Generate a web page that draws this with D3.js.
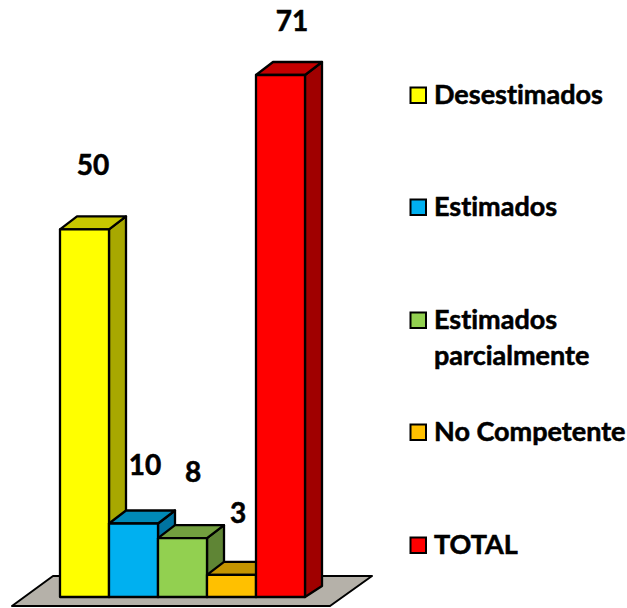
<!DOCTYPE html>
<html><head><meta charset="utf-8">
<script src="https://cdnjs.cloudflare.com/ajax/libs/d3/7.8.5/d3.min.js"></script>
<style>html,body{margin:0;padding:0;background:#fff}svg{display:block}text{font-family:Lato,"Open Sans",sans-serif;font-weight:700;fill:#000;stroke:#000;stroke-width:.55px;font-variant-ligatures:none}</style>
</head><body><svg id="c" width="627" height="608"></svg>
<script>
const categories = ["Desestimados","Estimados","Estimados parcialmente","No Competente","TOTAL"];
const values = [50,10,8,3,71];
const frontColors = ["#ffff00","#00b0f0","#92d050","#ffc000","#ff0000"];
const topColors = ["#c8c800","#008ab8","#729f3f","#c49400","#c40000"];
const sideColors = ["#a8a800","#0073a0","#5f8535","#a87f00","#a00000"];
const labelOffsets = [[33,-54],[36,-48],[35,-56],[31,-52],[36,-44]];
const legendLines = [["Desestimados"],["Estimados"],["Estimados","parcialmente"],["No Competente"],["TOTAL"]];
const legendY = [95,207,320,432,545];

const svg = d3.select("#c");
const x = d3.scaleBand().domain(categories).range([60,305]);
const y = d3.scaleLinear().domain([0,71]).range([597,75]);
const dx = 17, dy = 13, dyBase = 11;
const poly = p => p.join(" ");

svg.append("polygon")
  .attr("points", poly([[12,606],[53,576],[372,576],[330,606]]))
  .attr("fill","#b5b1a9").attr("stroke","#000").attr("stroke-width",2).attr("stroke-linejoin","round");

const bars = svg.selectAll("g.bar").data(categories).join("g").attr("class","bar");
bars.each(function(c,i){
  const g = d3.select(this), x0=x(c), x1=x0+x.bandwidth(), t=y(values[i]), b=y(0);
  const st = s => s.attr("stroke","#000").attr("stroke-width",2.3).attr("stroke-linejoin","round");
  st(g.append("polygon").attr("points",poly([[x1,t],[x1+dx,t-dy],[x1+dx,b-dyBase],[x1,b]])).attr("fill",sideColors[i]));
  st(g.append("polygon").attr("points",poly([[x0,t],[x0+dx,t-dy],[x1+dx,t-dy],[x1,t]])).attr("fill",topColors[i]));
  st(g.append("rect").attr("x",x0).attr("y",t).attr("width",x.bandwidth()).attr("height",b-t).attr("fill",frontColors[i]));
});

svg.selectAll("text.val").data(categories).join("text").attr("class","val")
  .attr("x",(c,i)=>x(c)+labelOffsets[i][0])
  .attr("y",(c,i)=>y(values[i])+labelOffsets[i][1])
  .attr("text-anchor","middle").attr("font-size",28)
  .text((c,i)=>values[i]);

const leg = svg.selectAll("g.leg").data(categories).join("g").attr("class","leg")
  .attr("transform",(c,i)=>`translate(0,${legendY[i]})`);
leg.append("rect").attr("x",410.5).attr("y",-7.5).attr("width",15.5).attr("height",15.5)
  .attr("fill",(c,i)=>frontColors[i]).attr("stroke","#000").attr("stroke-width",2);
leg.each(function(c,i){
  const g=d3.select(this);
  legendLines[i].forEach((s,k)=>g.append("text").attr("x",434).attr("y",9+k*36).attr("font-size",27).text(s));
});
</script></body></html>
